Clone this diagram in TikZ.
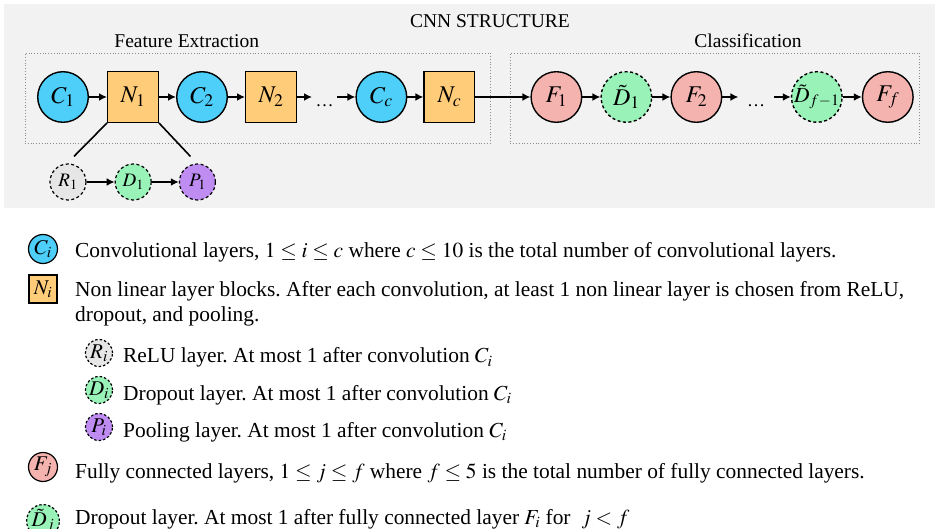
\documentclass[tikz,border=0pt]{standalone}
\usepackage{mathptmx}
\usepackage{fontspec}
\setmainfont{Liberation Serif}
\usetikzlibrary{arrows.meta, positioning, calc, fit}
\definecolor{ConvColor}{HTML}{4DCFFA}
\definecolor{NonLinColor}{HTML}{FFCC7A}
\definecolor{FcColor}{HTML}{F5B3AF}
\definecolor{DropColor}{HTML}{99F3B8}
\definecolor{ReluColor}{HTML}{E6E6E6}
\definecolor{PoolColor}{HTML}{BF8CF2}
\definecolor{PanelColor}{HTML}{F2F2F2}
\definecolor{GroupLine}{HTML}{8C8C8C}
\frenchspacing
\newcommand{\legendfont}{\fontsize{21.4}{25}\selectfont\thickmuskip=4mu plus 2mu\relax}

\begin{document}
\begin{tikzpicture}[
        x=1pt, y=-1pt,
        node distance=18pt,
        layer/.style={draw=black, line width=1.4pt, minimum size=50.6pt, inner sep=0pt, font=\fontsize{24}{28}\selectfont},
        conv/.style={layer, circle, fill=ConvColor},
        nonlin/.style={layer, rectangle, fill=NonLinColor},
        fc/.style={layer, circle, fill=FcColor},
        fcdrop/.style={layer, circle, fill=DropColor, dash pattern=on 3pt off 2.5pt},
        sublayer/.style={circle, draw=black, line width=1.2pt, dash pattern=on 3pt off 2.5pt, minimum size=36pt, inner sep=0pt, font=\fontsize{19}{22}\selectfont},
        gap/.style={minimum height=50pt, inner sep=0pt, text height=20pt, text depth=0pt, font=\fontsize{18}{22}\selectfont},
        group/.style={draw=GroupLine, line width=0.8pt, dotted, inner ysep=19pt},
        heading/.style={font=\fontsize{19.5}{23}\selectfont, inner sep=0pt},
        legicon/.style={draw=black, line width=1.2pt, minimum size=29pt, inner sep=0pt, font=\fontsize{21}{24}\selectfont},
        legdash/.style={legicon, circle, dash pattern=on 2.5pt off 2pt, minimum size=27pt},
        legtext/.style={anchor=base west, inner sep=0pt, font=\legendfont},
        arr/.style={-{Latex[length=8pt, width=8pt]}, line width=1.6pt},
        link/.style={line width=1.6pt}
      ]
        \useasboundingbox (0,0) rectangle (935,529);
        \fill[PanelColor] (4,4) rectangle (935,208);

        % feature extraction
        \node[conv] (C1) at (63,97) {$C_1$};
        \node[nonlin, right=of C1] (N1) {$N_1$};
        \node[conv, right=17pt of N1] (C2) {$C_2$};
        \node[nonlin, right=17pt of C2] (N2) {$N_2$};
        \node[gap, minimum width=25pt, right=15pt of N2] (dots1) {…};
        \node[conv, right=18pt of dots1] (Cc) {$C_c$};
        \node[nonlin, right=16pt of Cc] (Nc) {$N_c$};

        % classification
        \node[fc, right=55pt of Nc] (F1) {$F_1$};
        \node[fcdrop, right=18pt of F1] (Dt1) {$\tilde{D}_1$};
        \node[fc, right=18pt of Dt1] (F2) {$F_2$};
        \node[gap, minimum width=35pt, right=16pt of F2] (dots2) {…};
        \node[fcdrop, right=17pt of dots2] (Dtf) {\makebox[0pt]{\fontsize{21.5}{25}\selectfont$\tilde{D}_{f-1}$}};
        \node[fc, right=19pt of Dtf] (Ff) {$F_f$};

        % non linear block content
        \node[sublayer, fill=ReluColor] (R1) at (68,182) {$R_1$};
        \node[sublayer, fill=DropColor, right=28pt of R1] (D1) {$D_1$};
        \node[sublayer, fill=PoolColor, right=27pt of D1] (P1) {$P_1$};
        \coordinate (R1top) at ($(R1.north)+(6,-7)$);
        \coordinate (P1top) at ($(P1.north)+(-7,-7)$);

        \node[group, fit=(C1)(Nc), inner xsep=13.5pt, xshift=1.5pt, yshift=-1pt] (feat) {};
        \node[group, fit=(F1)(Ff), inner xsep=13pt, xshift=-7pt, yshift=-1pt] (clf) {};
        \node[heading, anchor=base] (featlbl) at ($(feat.north)+(-71,-5)$) {Feature Extraction};
        \node[heading, anchor=base] (clflbl) at ($(clf.north)+(33,-5)$) {Classification};
        \node[heading, anchor=base] (title) at (490,28) {CNN STRUCTURE};

        \draw[arr] (C1) -- (N1);
        \draw[arr] (N1) -- (C2);
        \draw[arr] (C2) -- (N2);
        \draw[arr] (N2) -- (dots1);
        \draw[arr] (dots1) -- (Cc);
        \draw[arr] (Cc) -- (Nc);
        \draw[arr] (Nc) -- (F1);
        \draw[arr] (F1) -- (Dt1);
        \draw[arr] (Dt1) -- (F2);
        \draw[arr] (F2) -- (dots2);
        \draw[arr] (dots2) -- (Dtf);
        \draw[arr] (Dtf) -- (Ff);
        \draw[arr] (R1) -- (D1);
        \draw[arr] (D1) -- (P1);
        \draw[link] (N1.south west) -- (R1top);
        \draw[link] (N1.south east) -- (P1top);

        % legend
        \node[legicon, circle, fill=ConvColor] (legC) at (43,249) {$C_i$};
        \node[legicon, rectangle, fill=NonLinColor, minimum size=28pt] (legN) at (43,289) {$N_i$};
        \node[legdash, fill=ReluColor] (legR) at (99,353) {$R_i$};
        \node[legdash, fill=DropColor] (legD) at (99,390) {$D_i$};
        \node[legdash, fill=PoolColor] (legP) at (99,427) {$P_i$};
        \node[legicon, circle, fill=FcColor] (legF) at (43,467) {$F_j$};
        \node[legdash, fill=DropColor, minimum size=28pt] (legDt) at (43,521) {$\tilde{D}_j$};

        \node[legtext] (txtC) at (75,258) {Convolutional layers, $1 \leq i \leq c$ where $c \leq 10$ is the total number of convolutional layers.};
        \node[legtext] (txtN) at (75,297) {Non linear layer blocks. After each convolution, at least 1 non linear layer is chosen from ReLU,};
        \node[legtext] (txtN2) at (75,322) {dropout, and pooling.};
        \node[legtext] (txtR) at (123,363) {ReLU layer. At most 1 after convolution $C_i$};
        \node[legtext] (txtD) at (123,400) {Dropout layer. At most 1 after convolution $C_i$};
        \node[legtext] (txtP) at (123,437) {Pooling layer. At most 1 after convolution $C_i$};
        \node[legtext] (txtF) at (75,478) {Fully connected layers, $1 \leq j \leq f$ where $f \leq 5$ is the total number of fully connected layers.};
        \node[legtext] (txtDt) at (75,524) {Dropout layer. At most 1 after fully connected layer $F_i$ for\ \ $j < f$};
      \end{tikzpicture}
\end{document}
